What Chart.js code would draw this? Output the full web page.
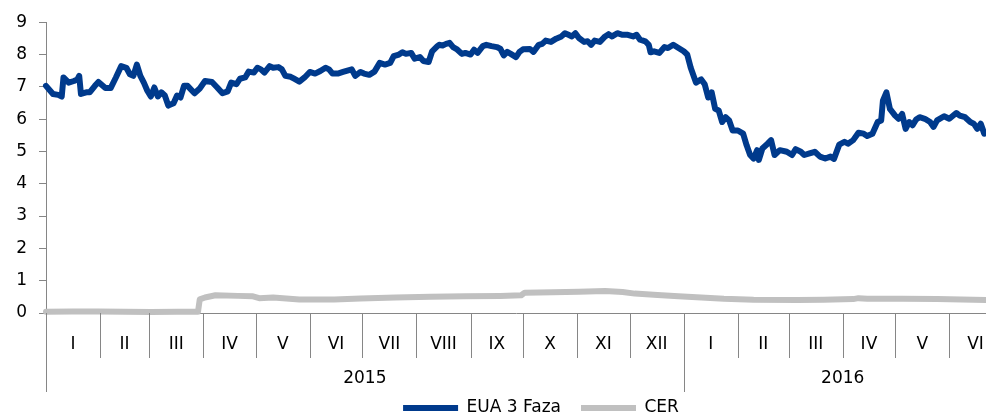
<!DOCTYPE html>
<html>
<head>
    <script src="https://cdn.jsdelivr.net/npm/chart.js@4.4.0/dist/chart.umd.min.js"></script>
    <style>
    body {
        margin: 0;
        background-color: #ffffff;
        overflow: hidden;
    }
    #wrap {
        width: 986px;
        height: 417px;
        position: relative;
    }
    </style>
    <title>EUA / CER</title>
</head>
<body>

<div id="wrap"><canvas id="myChart"></canvas></div>

<script>
    // days counted from 1 Jan 2015
    var euaDays = [
        0, 4, 7, 9, 10, 13, 16, 18, 19, 20,
        23, 25, 28, 30, 34, 37, 40, 43, 46, 48,
        50, 52, 54, 56, 58, 60, 62, 64, 66, 68,
        70, 73, 75, 77, 79, 81, 85, 88, 91, 95,
        98, 101, 104, 106, 109, 111, 114, 116, 119, 121,
        123, 125, 128, 130, 133, 135, 137, 140, 142, 145,
        148, 151, 154, 157, 160, 162, 164, 167, 170, 173,
        175, 177, 180, 182, 185, 188, 191, 194, 197, 199,
        202, 204, 206, 209, 211, 214, 216, 219, 221, 224,
        225, 227, 229, 231, 233, 235, 238, 240, 243, 245,
        247, 250, 252, 255, 258, 260, 262, 264, 266, 269,
        271, 273, 277, 279, 282, 284, 286, 289, 292, 295,
        297, 299, 301, 303, 305, 308, 310, 312, 314, 317,
        320, 322, 324, 327, 330, 333, 336, 338, 340, 343,
        345, 346, 348, 351, 354, 356, 359, 362, 365, 367,
        369, 372, 375, 377, 379, 381, 383, 385, 387, 389,
        391, 393, 396, 399, 401, 403, 405, 407, 408, 410,
        413, 415, 417, 420, 424, 427, 429, 432, 434, 437,
        440, 443, 446, 449, 451, 454, 457, 459, 462, 465,
        468, 470, 473, 476, 478, 479, 481, 483, 486, 488,
        490, 492, 494, 496, 498, 500, 503, 506, 508, 510,
        514, 517, 521, 523, 526, 529, 531, 533, 535, 537
    ];
    var euaPrices = [
        7.03, 6.78, 6.75, 6.70, 7.29, 7.13, 7.18, 7.23, 7.34, 6.78,
        6.83, 6.83, 7.03, 7.15, 6.96, 6.96, 7.29, 7.64, 7.59, 7.39,
        7.34, 7.69, 7.34, 7.13, 6.88, 6.70, 6.98, 6.70, 6.83, 6.73,
        6.42, 6.49, 6.73, 6.67, 7.03, 7.03, 6.80, 6.95, 7.18, 7.15,
        6.98, 6.80, 6.86, 7.13, 7.08, 7.25, 7.29, 7.47, 7.44, 7.59,
        7.54, 7.44, 7.64, 7.59, 7.61, 7.54, 7.34, 7.31, 7.25, 7.16,
        7.29, 7.46, 7.41, 7.49, 7.59, 7.54, 7.41, 7.41, 7.46, 7.51,
        7.54, 7.34, 7.46, 7.41, 7.37, 7.47, 7.74, 7.69, 7.74, 7.95,
        8.00, 8.07, 8.02, 8.05, 7.87, 7.92, 7.80, 7.77, 8.10, 8.26,
        8.30, 8.28, 8.33, 8.36, 8.23, 8.17, 8.02, 8.05, 8.00, 8.15,
        8.05, 8.26, 8.30, 8.26, 8.23, 8.18, 7.97, 8.08, 8.02, 7.92,
        8.08, 8.16, 8.17, 8.08, 8.30, 8.33, 8.43, 8.39, 8.49, 8.56,
        8.66, 8.61, 8.56, 8.66, 8.51, 8.39, 8.41, 8.30, 8.43, 8.39,
        8.56, 8.63, 8.56, 8.66, 8.61, 8.61, 8.56, 8.61, 8.46, 8.41,
        8.30, 8.07, 8.10, 8.05, 8.23, 8.20, 8.30, 8.20, 8.10, 8.00,
        7.59, 7.13, 7.23, 7.08, 6.67, 6.83, 6.32, 6.27, 5.91, 6.06,
        5.96, 5.65, 5.65, 5.55, 5.19, 4.89, 4.78, 5.04, 4.74, 5.09,
        5.24, 5.35, 4.89, 5.04, 4.99, 4.89, 5.07, 4.99, 4.89, 4.94,
        4.99, 4.84, 4.78, 4.84, 4.77, 5.21, 5.30, 5.24, 5.35, 5.58,
        5.55, 5.48, 5.55, 5.91, 5.96, 6.57, 6.83, 6.32, 6.11, 6.01,
        6.16, 5.70, 5.91, 5.81, 5.99, 6.06, 6.01, 5.91, 5.76, 5.96,
        6.09, 6.01, 6.19, 6.11, 6.06, 5.91, 5.86, 5.70, 5.86, 5.55
    ];
    var cerDays = [0, 15, 30, 45, 60, 75, 87, 88, 91, 97,
        110, 118, 122, 130, 145, 165, 180, 200, 220, 240,
        260, 272, 274, 290, 305, 320, 330, 337, 350, 362,
        375, 388, 405, 430, 445, 462, 465, 470, 490, 510, 538];
    var cerPrices = [0.04, 0.05, 0.05, 0.04, 0.03, 0.04, 0.04, 0.42, 0.48, 0.55,
        0.53, 0.52, 0.46, 0.48, 0.42, 0.42, 0.45, 0.48, 0.50, 0.52,
        0.53, 0.55, 0.63, 0.64, 0.66, 0.68, 0.65, 0.60, 0.56, 0.52,
        0.48, 0.44, 0.41, 0.40, 0.41, 0.43, 0.46, 0.44, 0.44, 0.43, 0.40];

    // month / year axis groups
    var monthStarts = [0, 31, 59, 90, 120, 151, 181, 212, 243, 273, 304, 334, 365, 396, 425, 456, 486, 517, 547];
    var monthLabels = ['I', 'II', 'III', 'IV', 'V', 'VI', 'VII', 'VIII', 'IX', 'X', 'XI', 'XII', 'I', 'II', 'III', 'IV', 'V', 'VI'];
    var yearStarts = [0, 365, 547];
    var yearLabels = ['2015', '2016'];
    var yTicks = [0, 1, 2, 3, 4, 5, 6, 7, 8, 9];

    var axisGray = '#868686';

    function pairs(xs, ys) {
        var out = [];
        for (let k = 0; k < xs.length; k++) {
            out.push({x: xs[k], y: ys[k]});
        }
        return out;
    }

    // draws the grouped month / year labels under the x axis
    var groupAxis = {
        id: 'groupAxis',
        afterLayout: function (chart) {
            // legend sits a bit right of the middle in the original
            chart.legend.left += 96;
        },
        afterDraw: function (chart) {
            var ctx = chart.ctx;
            var xs = chart.scales.x;
            var bottom = chart.chartArea.bottom;
            ctx.save();
            ctx.strokeStyle = axisGray;
            ctx.lineWidth = 1;
            for (let k = 0; k < monthStarts.length; k++) {
                var px = Math.round(xs.getPixelForValue(monthStarts[k])) + 0.5;
                var isYear = yearStarts.indexOf(monthStarts[k]) >= 0;
                ctx.beginPath();
                ctx.moveTo(px, bottom);
                ctx.lineTo(px, isYear ? bottom + 79 : bottom + 45);
                ctx.stroke();
            }
            ctx.fillStyle = '#000000';
            ctx.font = "17px 'DejaVu Sans'";
            ctx.textAlign = 'center';
            ctx.textBaseline = 'middle';
            for (let k = 0; k < monthLabels.length; k++) {
                var mid = (monthStarts[k] + monthStarts[k + 1]) / 2;
                ctx.fillText(monthLabels[k], xs.getPixelForValue(mid), bottom + 32);
            }
            for (let k = 0; k < yearLabels.length; k++) {
                var ymid = (yearStarts[k] + yearStarts[k + 1]) / 2;
                ctx.fillText(yearLabels[k], xs.getPixelForValue(ymid), bottom + 66);
            }
            ctx.restore();
        }
    };

    Chart.defaults.font.family = "'DejaVu Sans', sans-serif";
    Chart.defaults.font.size = 17;
    Chart.defaults.color = '#000000';

    var ctx = document.getElementById('myChart').getContext('2d');
    var myChart = new Chart(ctx, {
        type: 'line',
        data: {
            datasets: [
                {
                    label: 'EUA 3 Faza',
                    data: pairs(euaDays, euaPrices),
                    borderColor: '#003A8C',
                    backgroundColor: '#003A8C',
                    borderWidth: 6,
                    pointRadius: 0,
                    tension: 0,
                    borderCapStyle: 'round',
                    borderJoinStyle: 'round',
                    clip: false
                },
                {
                    label: 'CER',
                    data: pairs(cerDays, cerPrices),
                    borderColor: '#C0C0C0',
                    backgroundColor: '#C0C0C0',
                    borderWidth: 6,
                    pointRadius: 0,
                    tension: 0,
                    borderCapStyle: 'round',
                    borderJoinStyle: 'round',
                    clip: false
                }
            ]
        },
        options: {
            responsive: true,
            maintainAspectRatio: false,
            animation: false,
            layout: {
                padding: {top: 19, left: 0, right: 0, bottom: 0}
            },
            scales: {
                x: {
                    type: 'linear',
                    min: 0,
                    max: 538,
                    ticks: {display: false},
                    grid: {display: false},
                    border: {display: true, color: axisGray, width: 1},
                    afterFit: function (s) { s.height = 66.5; }
                },
                y: {
                    min: 0,
                    max: 9,
                    afterBuildTicks: function (s) {
                        s.ticks = yTicks.map(function (v) { return {value: v}; });
                    },
                    ticks: {padding: 12, color: '#000000'},
                    grid: {drawOnChartArea: false, drawTicks: true, tickLength: 7, color: axisGray},
                    border: {display: true, color: axisGray, width: 1},
                    afterFit: function (s) { s.width = 46; }
                }
            },
            plugins: {
                legend: {
                    position: 'bottom',
                    maxHeight: 37.5,
                    labels: {
                        usePointStyle: true,
                        pointStyle: 'line',
                        pointStyleWidth: 55,
                        padding: 20,
                        color: '#000000',
                        font: {size: 17}
                    }
                },
                tooltip: {enabled: false}
            }
        },
        plugins: [groupAxis]
    });
</script>

</body>
</html>
